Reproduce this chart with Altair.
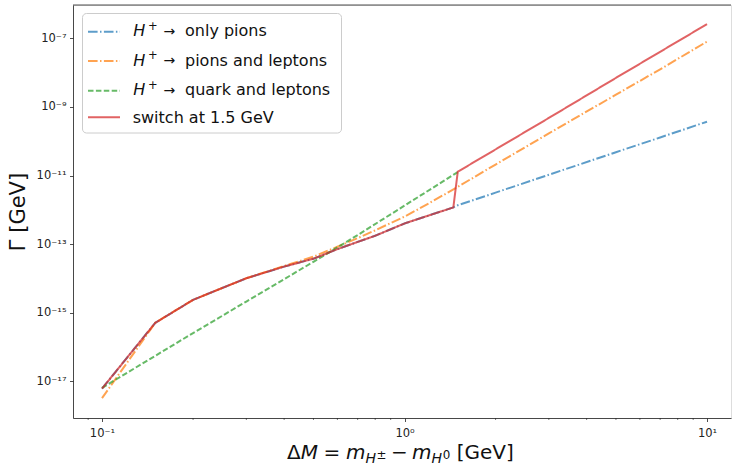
import altair as alt
import pandas as pd

FONT = "DejaVu Sans"

# ΔM sample points (GeV) and the decay width Γ (GeV) of each channel
dm_pions = [0.1, 0.15, 0.2, 0.3, 0.4, 0.5, 0.6, 0.7, 0.8, 1.0, 1.2, 1.45, 1.5,
            2.0, 3.0, 5.0, 7.0, 10.0]
gamma_pions = [6.0e-18, 5.0e-16, 2.34e-15, 1.0e-14, 2.19e-14, 3.72e-14, 7.08e-14,
               1.15e-13, 1.74e-13, 3.98e-13, 6.76e-13, 1.17e-12, 1.35e-12,
               3.16e-12, 1.05e-11, 4.79e-11, 1.29e-10, 3.72e-10]

dm_pions_leptons = [0.1, 0.15, 0.2, 0.3, 0.4, 0.5, 0.6, 0.7, 0.8, 1.0, 1.2, 1.5,
                    2.0, 3.0, 5.0, 7.0, 10.0]
gamma_pions_leptons = [3.16e-18, 5.0e-16, 2.34e-15, 1.0e-14, 2.29e-14, 4.27e-14,
                       8.3e-14, 1.48e-13, 2.51e-13, 6.31e-13, 1.51e-12, 4.68e-12,
                       2.09e-11, 1.70e-10, 2.29e-9, 1.26e-8, 8.13e-8]

dm_quarks = [0.1, 0.2, 0.3, 0.5, 0.7, 1.0, 1.5]
gamma_quarks = [6.3e-18, 2.51e-16, 2.09e-15, 3.02e-14, 1.82e-13, 1.32e-12, 1.26e-11]

dm_switch = [0.1, 0.15, 0.2, 0.3, 0.4, 0.5, 0.6, 0.7, 0.8, 1.0, 1.2, 1.45, 1.5,
             3.0, 5.0, 10.0]
gamma_switch = [6.0e-18, 5.0e-16, 2.34e-15, 1.0e-14, 2.19e-14, 3.72e-14, 7.08e-14,
                1.15e-13, 1.74e-13, 3.98e-13, 6.76e-13, 1.17e-12, 1.29e-11,
                4.79e-10, 7.08e-9, 2.63e-7]

# legend texts: (symbol part, rest of label)
legend_rows = [("H", "only pions"), ("H", "pions and leptons"),
               ("H", "quark and leptons"), (None, "switch at 1.5 GeV")]

# styling per series
COLORS = ["#1f77b4", "#ff7f0e", "#2ca02c", "#d62728"]
DASHDOT = [9.6, 2.4, 1.5, 2.4]
DASHES = [DASHDOT, DASHDOT, [5.5, 2.4], [1, 0]]
series = [(dm_pions, gamma_pions), (dm_pions_leptons, gamma_pions_leptons),
          (dm_quarks, gamma_quarks), (dm_switch, gamma_switch)]

W, H = 658, 413
L, T = 73, 5

xscale = alt.Scale(type="log", domain=[10 ** -1.0959, 10 ** 1.0793], nice=False)
yscale = alt.Scale(type="log", domain=[10 ** -18.080, 10 ** -6.022], nice=False)

SUP = str.maketrans("-0123456789", "⁻⁰¹²³⁴⁵⁶⁷⁸⁹")


def pow10(e):
    return "10" + str(e).translate(SUP)


y_exps = [-17, -15, -13, -11, -9, -7]
y_expr = " : ".join(
    f"datum.value < {10.0 ** (e + 1):g} ? '{pow10(e)}'" for e in y_exps[:-1]
) + f" : '{pow10(y_exps[-1])}'"

xaxis = alt.Axis(values=[0.1, 1, 10], title=None, grid=False,
                 labelExpr=f"datum.value < 0.5 ? '{pow10(-1)}' : datum.value < 5 ? '{pow10(0)}' : '{pow10(1)}'",
                 labelFont=FONT, labelFontSize=11.5, labelColor="#222", labelPadding=6,
                 tickSize=3.5, tickWidth=0.8, tickColor="#222",
                 domainColor="#222", domainWidth=0.8)
yaxis = alt.Axis(values=[10.0 ** e for e in y_exps], title="Γ [GeV]", grid=False,
                 labelExpr=y_expr, labelFont=FONT, labelFontSize=11.5, labelColor="#222",
                 labelPadding=3.5, tickSize=3.5, tickWidth=0.8, tickColor="#222",
                 domainColor="#222", domainWidth=0.8,
                 titleFont=FONT, titleFontSize=21, titleFontWeight="normal",
                 titleColor="#111", titleX=-45, titleY=H / 2, titleAngle=270,
                 titleBaseline="bottom", titleAlign="center")

one = pd.DataFrame({"k": [0]})

layers = []
for (dm, g), col, dash in zip(series, COLORS, DASHES):
    df = pd.DataFrame({"dm": dm, "gamma": g})
    layers.append(
        alt.Chart(df).mark_line(color=col, strokeDash=dash, strokeWidth=2,
                                opacity=0.72, clip=True).encode(
            x=alt.X("dm:Q", scale=xscale, axis=xaxis),
            y=alt.Y("gamma:Q", scale=yscale, axis=yaxis),
            order="dm:Q",
        )
    )

# minor ticks on the log x axis
minor = [m * 10.0 ** d for d in (-2, -1, 0, 1) for m in range(2, 10)]
lo, hi = xscale.domain
minor = [v for v in minor if lo < v < hi]
layers.append(
    alt.Chart(pd.DataFrame({"dm": minor})).mark_rule(color="#222", strokeWidth=0.6).encode(
        x=alt.X("dm:Q", scale=xscale, axis=xaxis),
        y=alt.value(H), y2=alt.value(H + 2),
    )
)

# top spine
layers.append(alt.Chart(one).mark_rule(color="#222", strokeWidth=0.8).encode(
    x=alt.value(0), x2=alt.value(W), y=alt.value(0)))


def text(s, x, y, size, italic=False, color="#111"):
    return alt.Chart(one).mark_text(
        text=s, font=FONT, fontSize=size, fontStyle="italic" if italic else "normal",
        align="left", baseline="alphabetic", color=color,
    ).encode(x=alt.value(x - L), y=alt.value(y - T))


# x-axis title  ΔM = m_{H±} − m_{H0} [GeV]
fs, fsub = 20, 14
pieces = [("Δ", fs, False, 0, 0.684), ("M", fs, True, 0, 0.863),
          (None, fs, False, 0, 0.28), ("=", fs, False, 0, 0.838), (None, fs, False, 0, 0.28),
          ("m", fs, True, 0, 0.974), ("H", fsub, True, 4, 0.80), ("±", fsub * 0.85, False, 0, 0.838),
          (None, fs, False, 0, 0.22), ("−", fs, False, 0, 0.838), (None, fs, False, 0, 0.22),
          ("m", fs, True, 0, 0.974), ("H", fsub, True, 4, 0.80), ("0", fsub * 0.85, False, 0, 0.636),
          (None, fs, False, 0, 0.318), ("[GeV]", fs, False, 0, 2.854)]
cx = 287.0
base = 458.5
for s, size, it, dy, em in pieces:
    if s is not None:
        layers.append(text(s, cx, base + dy, size, it))
    cx += em * size

# legend frame
layers.append(alt.Chart(one).mark_rect(fill="white", fillOpacity=0.8, stroke="#cccccc",
                                       strokeWidth=1, cornerRadius=4).encode(
    x=alt.value(82.5 - L), x2=alt.value(341.5 - L), y=alt.value(13.5 - T), y2=alt.value(133 - T)))

sym_y = [31.7, 61.0, 90.7, 117.3]
txt_y = [36.2, 65.5, 95.2, 123.0]
for (sym, rest), col, dash, sy, ty in zip(legend_rows, COLORS, DASHES, sym_y, txt_y):
    layers.append(alt.Chart(one).mark_rule(color=col, strokeDash=dash, strokeWidth=2,
                                           opacity=0.72).encode(
        x=alt.value(88 - L), x2=alt.value(120 - L), y=alt.value(sy - T)))
    if sym is not None:
        layers.append(text(sym, 133.3, ty, 16, True))
        layers.append(text("+", 148.0, ty - 6.5, 11.5))
        layers.append(text("→", 163.5, ty - 0.5, 14))
        layers.append(text(rest, 185.0, ty, 16))
    else:
        layers.append(text(rest, 132.7, ty, 16))

chart = alt.layer(*layers).properties(
    width=W, height=H,
    padding={"left": L, "top": T, "right": 1, "bottom": 48},
    autosize=alt.AutoSizeParams(type="none"),
).configure_view(stroke=None).configure(background="white")

chart.save("out.html", embed_options={"renderer": "svg", "actions": False})
